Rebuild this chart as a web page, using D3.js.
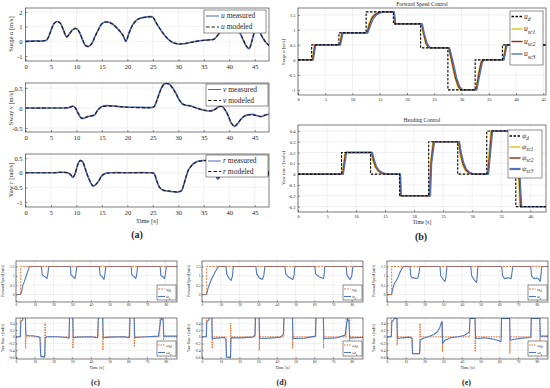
<!DOCTYPE html>
<html>
<head>
<meta charset="utf-8">
<script src="https://cdn.jsdelivr.net/npm/d3@7"></script>
<style>
  body { margin: 0; background: #fff; }
  text { font-family: "Liberation Serif", "DejaVu Serif", serif; fill: #262626; }
</style>
</head>
<body>
<div id="chart"></div>
<script>
// ---------- data: panel (a) ----------
const surgeTime = [0, 2, 3.5, 4.2, 5, 5.6, 6.2, 6.8, 7.4, 8.1, 8.7, 9.3, 10, 10.6, 11.2,
  11.8, 12.4, 13, 13.6, 14.3, 15, 15.7, 16.4, 17.1, 17.8, 18.5, 19.2, 19.7, 20.3, 21,
  21.8, 22.6, 23.5, 24.4, 25, 25.5, 26.2, 27, 28, 29, 30, 31, 32, 33, 34,
  35, 36, 37, 37.8, 38.6, 39.4, 40.2, 41, 41.8, 42.6, 43.3, 43.9, 44.5, 45.1, 45.7,
  46.3, 47, 47.8];
const surgeMeasured = [0, 0.02, 0.03, 0.1, 0.75, 1.2, 1.35, 1.25, 0.8, 0.3, 0.55, 0.8, 0.88, 0.6, 0.1,
  -0.3, -0.35, -0.15, 0.3, 0.8, 1.2, 1.32, 1.3, 1.18, 0.95, 0.7, 0.35, 0.0, 0.55, 1.1,
  1.45, 1.58, 1.65, 1.68, 1.65, 1.35, 0.95, 0.55, 0.15, -0.1, -0.18, -0.17, -0.1, -0.03, 0.03,
  0.07, 0.1, 0.15, 0.45, 0.8, 1.1, 1.3, 1.25, 0.8, 0.2, -0.3, -0.5, 0.1, 0.75, 0.85,
  0.4, 0.0, -0.3];
const surgeModeled = [0, 0.01, 0.02, 0.12, 0.73, 1.22, 1.33, 1.24, 0.82, 0.32, 0.54, 0.8, 0.86, 0.62, 0.12,
  -0.28, -0.34, -0.16, 0.28, 0.79, 1.19, 1.31, 1.29, 1.17, 0.96, 0.7, 0.37, 0.02, 0.53, 1.08,
  1.44, 1.57, 1.64, 1.67, 1.64, 1.36, 0.96, 0.56, 0.16, -0.09, -0.17, -0.16, -0.1, -0.04, 0.02,
  0.06, 0.09, 0.14, 0.44, 0.79, 1.09, 1.28, 1.24, 0.82, 0.22, -0.28, -0.48, 0.08, 0.73, 0.84,
  0.42, 0.02, -0.28];

const swayTime = [0, 5, 8.5, 9.3, 9.8, 10.4, 11, 11.6, 12.3, 13, 13.6, 14.2, 15, 16, 18,
  20, 22, 24, 25.2, 25.8, 26.5, 27.2, 27.8, 28.4, 29, 29.6, 30.2, 30.8, 31.5, 32.5,
  33.5, 34.5, 35.5, 36.5, 37.3, 38, 38.5, 39.2, 39.8, 40.4, 41, 41.6, 42.3, 43, 43.8,
  44.6, 45.4, 46.2, 47, 47.8];
const swayMeasured = [0, 0, 0.01, 0.05, 0.0, -0.15, -0.26, -0.25, -0.21, -0.2, -0.17, -0.05, 0.04, 0.06, 0.04,
  0.02, 0.02, 0.01, 0.03, 0.2, 0.45, 0.6, 0.62, 0.58, 0.48, 0.35, 0.2, 0.1, 0.07, 0.05,
  0.0, -0.04, -0.07, -0.07, -0.02, 0.04, 0.05, -0.05, -0.2, -0.38, -0.46, -0.4, -0.28, -0.2, -0.17,
  -0.16, -0.19, -0.22, -0.18, -0.15];
const swayModeled = [0, 0, 0.01, 0.04, 0.0, -0.14, -0.25, -0.24, -0.21, -0.19, -0.16, -0.05, 0.03, 0.05, 0.04,
  0.02, 0.01, 0.01, 0.03, 0.19, 0.44, 0.59, 0.61, 0.57, 0.47, 0.34, 0.2, 0.11, 0.07, 0.05,
  0.0, -0.04, -0.06, -0.07, -0.03, 0.03, 0.04, -0.05, -0.19, -0.37, -0.45, -0.39, -0.28, -0.2, -0.17,
  -0.17, -0.19, -0.21, -0.18, -0.16];

const yawTime = [0, 5, 8.3, 8.9, 9.3, 9.7, 10.2, 10.7, 11.2, 11.7, 12.2, 12.7, 13.2, 13.7, 14.3,
  15, 15.8, 17, 20, 24, 25.2, 25.7, 26.3, 27, 28, 29, 30, 30.6, 31, 31.5,
  32, 32.6, 33.3, 34, 35, 36.5, 37.2, 37.7, 38.2, 39, 40, 41, 43, 45, 46.5,
  47, 47.4, 47.8];
const yawMeasured = [0, 0, 0, -0.08, -0.16, -0.05, 0.25, 0.42, 0.38, 0.15, -0.1, -0.3, -0.45, -0.42, -0.3,
  -0.1, -0.02, 0, 0, 0, -0.02, -0.25, -0.5, -0.6, -0.63, -0.65, -0.66, -0.62, -0.45, -0.15,
  0.1, 0.25, 0.35, 0.4, 0.42, 0.42, 0.2, -0.22, -0.1, 0.2, 0.38, 0.4, 0.4, 0.4, 0.4,
  0.38, 0.15, -0.1];
const yawModeled = [0, 0, 0, -0.07, -0.15, -0.05, 0.24, 0.41, 0.37, 0.15, -0.1, -0.3, -0.44, -0.41, -0.3,
  -0.1, -0.02, 0, 0, 0, -0.02, -0.24, -0.49, -0.59, -0.62, -0.64, -0.65, -0.61, -0.44, -0.15,
  0.1, 0.24, 0.34, 0.39, 0.41, 0.41, 0.2, -0.2, -0.1, 0.19, 0.37, 0.39, 0.39, 0.39, 0.39,
  0.37, 0.15, -0.08];

// ---------- data: panel (b) ----------
const speedRef = [[0,0],[2.5,0],[2.5,0.5],[7.5,0.5],[7.5,0.9],[12.5,0.9],[12.5,1.6],[17.5,1.6],[17.5,1.2],
  [22.5,1.2],[22.5,0.4],[27.5,0.4],[27.5,-1],[32.5,-1],[32.5,0],[37.5,0],[37.5,0.5],[45.5,0.5]];
const speedSc1 = [[0,0],[2.6,0],[3.0,0.5],[7.6,0.5],[8.0,0.9],[12.6,0.9],[13.0,1.2],[13.5,1.42],[14.1,1.53],
  [14.8,1.58],[15.5,1.6],[17.6,1.6],[17.8,1.2],[22.6,1.2],[23.0,0.85],[23.4,0.55],[23.8,0.43],[24.2,0.4],
  [27.6,0.4],[28.2,-0.1],[28.8,-0.6],[29.3,-0.9],[29.7,-1],[32.6,-1],[33.1,-0.45],[33.5,-0.1],[33.8,0],
  [37.6,0],[38.1,0.5],[45.5,0.5]];
const speedSc2 = [[0,0],[2.7,0],[3.1,0.5],[7.7,0.5],[8.1,0.9],[12.7,0.9],[13.1,1.18],[13.6,1.4],[14.2,1.52],
  [14.9,1.58],[15.6,1.6],[17.6,1.6],[17.85,1.2],[22.7,1.2],[23.1,0.85],[23.5,0.55],[23.9,0.43],[24.3,0.4],
  [27.7,0.4],[28.3,-0.1],[28.9,-0.6],[29.5,-0.9],[29.9,-1],[32.7,-1],[33.2,-0.45],[33.6,-0.1],[33.9,0],
  [37.7,0],[38.2,0.5],[45.5,0.5]];
const speedSc3 = [[0,0],[2.8,0],[3.25,0.5],[7.8,0.5],[8.25,0.9],[12.8,0.9],[13.3,1.15],[13.8,1.37],[14.4,1.5],
  [15.1,1.57],[15.8,1.6],[17.65,1.6],[17.9,1.2],[22.8,1.2],[23.2,0.85],[23.7,0.55],[24.1,0.43],[24.5,0.4],
  [27.8,0.4],[28.5,-0.1],[29.1,-0.6],[29.7,-0.9],[30.2,-1],[32.8,-1],[33.4,-0.45],[33.8,-0.1],[34.1,0],
  [37.8,0],[38.35,0.5],[45.5,0.5]];

const headingRef = [[0,0],[7.5,0],[7.5,0.2],[12.5,0.2],[12.5,0],[17.5,0],[17.5,-0.2],[22.5,-0.2],[22.5,0.3],
  [27.5,0.3],[27.5,0],[32.5,0],[32.5,0.4],[37.5,0.4],[37.5,-0.3],[43,-0.3]];
const headingSc1 = [[0,0],[7.6,0],[8.1,0.2],[12.6,0.2],[12.9,0.12],[13.3,0.06],[13.8,0.025],[14.4,0.008],[15.2,0],
  [17.55,0],[17.65,-0.2],[22.6,-0.2],[22.8,0.1],[23.2,0.3],[27.6,0.3],[27.9,0.18],[28.3,0.09],[28.8,0.035],
  [29.4,0.01],[30.2,0],[32.6,0],[33.2,0.4],[37.6,0.4],[38.2,-0.3],[43,-0.3]];
const headingSc2 = [[0,0],[7.7,0],[8.2,0.2],[12.7,0.2],[13.0,0.13],[13.4,0.065],[13.9,0.03],[14.5,0.01],[15.3,0],
  [17.6,0],[17.7,-0.2],[22.7,-0.2],[22.9,0.1],[23.35,0.3],[27.7,0.3],[28.0,0.19],[28.4,0.1],[28.9,0.04],
  [29.5,0.012],[30.3,0],[32.7,0],[33.35,0.4],[37.7,0.4],[38.35,-0.3],[43,-0.3]];
const headingSc3 = [[0,0],[7.8,0],[8.35,0.2],[12.8,0.2],[13.1,0.14],[13.5,0.07],[14.0,0.032],[14.6,0.012],[15.4,0],
  [17.65,0],[17.75,-0.2],[22.8,-0.2],[23.0,0.1],[23.5,0.3],[27.8,0.3],[28.1,0.2],[28.5,0.11],[29.0,0.045],
  [29.6,0.015],[30.4,0],[32.8,0],[33.5,0.4],[37.8,0.4],[38.5,-0.3],[43,-0.3]];

// ---------- data: panels (c), (d), (e) ----------
const fwdRef = [[0,0],[2.5,0],[2.5,1.5],[86,1.5]];

const cSpeed = [[0,0],[2,0],[2.5,0.02],[3,0.15],[3.5,0.45],[4.5,0.7],[5.5,1.0],[6.5,1.3],[7.2,1.5],
  [13.6,1.5],[14,1.05],[15,0.98],[16,0.9],[16.5,0.85],[17,1.1],[17.5,1.5],
  [29,1.5],[29.4,1.05],[30.5,0.95],[31.5,0.85],[32,1.1],[32.5,1.5],
  [44.5,1.5],[44.9,1.05],[46,0.95],[47,0.8],[47.5,1.1],[48,1.5],
  [61.5,1.5],[61.9,1.05],[63,0.95],[64,0.85],[64.5,1.1],[65,1.5],
  [77,1.5],[77.4,1.0],[78.5,0.95],[79.3,0.85],[79.8,1.1],[80.3,1.5],[86,1.5]];
const cYaw = [[0,0],[2.3,0],[2.6,0.45],[3.5,0.5],[4.0,0.6],[5.0,0.6],[5.3,0.05],[6,0.04],[9,0.03],[12,0.0],
  [12.8,-0.05],[13.2,-0.58],[15.3,-0.6],[15.6,-0.02],[17,0.0],[22,0.0],[27,-0.02],[28.3,-0.04],[28.6,0.58],
  [30.3,0.6],[30.6,-0.03],[33,-0.01],[40,0.0],[43.5,-0.03],[44,0.58],[46.3,0.6],[46.6,-0.03],[50,-0.01],
  [58,0],[60.5,-0.03],[60.9,0.58],[63.1,0.6],[63.4,-0.02],[70,0],[76,0.02],[76.8,0.3],[77.5,0.55],
  [78.6,0.5],[78.9,0.02],[86,0.02]];
const cYawRef = [[0,0],[2.3,0],[2.3,0.62],[5.1,0.62],[5.1,-0.35],[5.3,0],[13.2,0],[13.2,-0.6],[15.5,-0.6],
  [15.5,0.42],[15.7,0],[28.5,0],[28.5,0.6],[30.4,0.6],[30.4,-0.35],[30.6,0],[44,0],[44,0.6],[46.4,0.6],
  [46.4,-0.4],[46.6,0],[60.8,0],[60.8,0.6],[63.2,0.6],[63.2,-0.3],[63.4,0],[76.8,0],[76.8,0.6],[78.8,0.6],
  [78.8,-0.1],[79,0],[86,0]];

const dSpeed = [[0,0],[2.5,0],[3,0.25],[4,0.55],[5,0.8],[6,1.0],[7,1.2],[8,1.38],[9,1.5],
  [12.8,1.5],[13.2,1.1],[14.5,0.85],[15.5,0.75],[16.2,0.95],[16.7,1.5],
  [28.8,1.5],[29.2,1.1],[30.5,0.9],[32.2,0.8],[33,1.0],[33.6,1.5],
  [44.3,1.5],[44.7,1.1],[46.5,0.92],[48.5,0.8],[49.1,1.0],[49.6,1.5],
  [60.3,1.5],[60.7,1.1],[62.5,0.95],[64.8,0.85],[65.2,1.0],[65.6,1.5],
  [77,1.5],[77.4,1.05],[79,0.8],[80,1.0],[80.6,1.5],[86,1.5]];
const dYaw = [[0,0],[2.3,0],[2.6,0.45],[3.5,0.5],[4.0,0.58],[5.2,0.6],[5.5,-0.05],[8,-0.04],[12,-0.02],
  [12.8,-0.08],[13.1,-0.6],[15.2,-0.62],[15.5,-0.03],[20,-0.03],[27,-0.01],[28.3,0.05],[28.6,0.6],[30.5,0.6],
  [30.8,-0.05],[36,-0.04],[42,-0.01],[43.5,0.08],[43.8,0.6],[48.3,0.6],[48.6,-0.05],[55,-0.04],[60.6,0.02],
  [60.9,0.6],[64.8,0.6],[65.1,-0.05],[72,-0.03],[76.5,0.05],[77.3,0.4],[77.8,0.55],[78.5,0.45],[78.9,-0.03],
  [86,-0.02]];
const dYawRef = [[0,0],[2.3,0],[2.3,0.6],[5.4,0.6],[5.4,-0.35],[5.6,0],[12.9,0],[12.9,-0.6],[15.3,-0.6],
  [15.3,0.4],[15.5,0],[28.4,0],[28.4,0.6],[30.6,0.6],[30.6,-0.4],[30.8,0],[43.7,0],[43.7,0.6],[48.4,0.6],
  [48.4,-0.35],[48.6,0],[60.8,0],[60.8,0.6],[64.9,0.6],[64.9,-0.35],[65.1,0],[77,0],[77,0.6],[78.8,0.6],
  [78.8,-0.2],[79,0],[86,0]];

const eSpeed = [[0,0],[2.5,0],[3,0.3],[4,0.6],[5,0.75],[6,0.95],[7,1.2],[8,1.4],[9,1.5],
  [12.3,1.5],[12.7,1.0],[13.5,0.88],[14.5,0.9],[15.5,0.85],[16.5,0.88],[17.2,1.2],[17.6,1.5],
  [28.3,1.5],[28.7,1.0],[30,0.8],[31,0.7],[31.6,1.0],[32,1.5],
  [44.8,1.5],[45.2,1.0],[46.5,0.8],[47.8,0.65],[48.2,1.0],[48.5,1.5],
  [61.3,1.5],[61.7,1.0],[62.8,0.85],[64.5,0.9],[66.3,0.85],[66.8,1.2],[67.2,1.5],
  [76.8,1.5],[77.2,1.0],[78.5,0.85],[80.5,0.88],[81.8,0.7],[82.3,1.1],[82.7,1.5],[86,1.5]];
const eYaw = [[0,0],[2.3,0],[2.6,0.45],[3.5,0.5],[4.0,0.55],[5.3,0.55],[5.6,-0.05],[8,-0.03],[12,-0.01],
  [13.3,-0.05],[13.7,-0.5],[17.4,-0.5],[17.7,-0.1],[19,-0.05],[22,0.0],[25,0.07],[27,0.15],[28.2,0.28],
  [29,0.42],[29.4,0.45],[29.7,-0.2],[31,-0.1],[34,-0.03],[38,0.0],[41,0.04],[43,0.1],[44,0.15],[44.3,0.55],
  [47,0.55],[47.3,-0.05],[52,-0.03],[56,-0.06],[59,-0.1],[60.9,-0.15],[61.2,0.55],[65.5,0.55],[65.8,-0.1],
  [68,-0.07],[72,-0.04],[76.8,-0.02],[77.1,0.55],[81.6,0.55],[81.9,0.02],[86,0.02]];
const eYawRef = [[0,0],[2.3,0],[2.3,0.6],[5.4,0.6],[5.4,-0.25],[5.6,0],[13.5,0],[13.5,-0.5],[17.6,-0.5],
  [17.6,0.4],[17.8,0],[29.5,0],[29.5,0.45],[29.6,-0.45],[29.8,0],[44.2,0],[44.2,0.55],[47.1,0.55],
  [47.1,-0.45],[47.3,0],[61.1,0],[61.1,0.55],[65.6,0.55],[65.6,-0.5],[65.8,0],[77,0],[77,0.55],[81.7,0.55],
  [81.7,-0.3],[81.9,0],[86,0]];

// tick labels
const ticksA = [0, 5, 10, 15, 20, 25, 30, 35, 40, 45];
const ticksB = [0, 5, 10, 15, 20, 25, 30, 35, 40, 45];
const ticksCDE = [0, 10, 20, 30, 40, 50, 60, 70, 80];

// colours
const blueA = '#4a68b4', darkA = '#2b1c14';
const yellowB = '#d6c21e', redB = '#8e2f12', blueB = '#5271b9';
const blueC = '#4f77bd', orangeC = '#de6a28';

// ---------- canvas ----------
const svg = d3.select('#chart').append('svg')
  .attr('width', 550)
  .attr('height', 388)
  .style('background', '#fff');

let clipCount = 0;

// rich text: parts like [['u','i'], [' measured']] or [['u','i'], ['sc1','isub']]
function rich(sel, parts, fs) {
  let shifted = false;
  parts.forEach(p => {
    const t = sel.append('tspan').text(p[0]);
    const st = p[1] || '';
    if (st.startsWith('i')) t.style('font-style', 'italic');
    if (st.includes('sub')) {
      t.attr('font-size', fs * 0.75).attr('dy', fs * 0.3);
      shifted = true;
    } else if (shifted) {
      t.attr('dy', -fs * 0.3);
      shifted = false;
    }
  });
  return sel;
}

// one MATLAB-like axes box with grid and inward ticks
function subplot(o) {
  const x = d3.scaleLinear().domain(o.xd).range([o.l, o.r]);
  const y = d3.scaleLinear().domain(o.yd).range([o.b, o.t]);
  const g = svg.append('g');
  const id = 'clip' + (clipCount++);
  svg.append('clipPath').attr('id', id).append('rect')
    .attr('x', o.l).attr('y', o.t).attr('width', o.r - o.l).attr('height', o.b - o.t);

  g.append('rect').attr('x', o.l).attr('y', o.t).attr('width', o.r - o.l).attr('height', o.b - o.t)
    .attr('fill', '#fff');

  // grid
  g.append('g').selectAll('line').data(o.xt).join('line')
    .attr('x1', d => x(d)).attr('x2', d => x(d)).attr('y1', o.t).attr('y2', o.b)
    .attr('stroke', '#e3e3e3').attr('stroke-width', 0.5);
  g.append('g').selectAll('line').data(o.yt).join('line')
    .attr('y1', d => y(d)).attr('y2', d => y(d)).attr('x1', o.l).attr('x2', o.r)
    .attr('stroke', '#e3e3e3').attr('stroke-width', 0.5);

  const xa = g.append('g').attr('transform', `translate(0,${o.b})`)
    .call(d3.axisBottom(x).tickValues(o.xt).tickSize(-o.tl).tickPadding(o.tp).tickFormat(d => String(d)));
  const ya = g.append('g').attr('transform', `translate(${o.l},0)`)
    .call(d3.axisLeft(y).tickValues(o.yt).tickSize(-o.tl).tickPadding(o.tp).tickFormat(d => String(d)));
  [xa, ya].forEach(a => {
    a.select('.domain').remove();
    a.selectAll('line').attr('stroke', '#333').attr('stroke-width', 0.5);
    a.selectAll('text').attr('font-size', o.fs)
      .attr('font-family', '"Liberation Serif", serif').attr('fill', '#333');
  });

  const lines = g.append('g').attr('clip-path', `url(#${id})`);
  g.append('rect').attr('x', o.l).attr('y', o.t).attr('width', o.r - o.l).attr('height', o.b - o.t)
    .attr('fill', 'none').attr('stroke', '#262626').attr('stroke-width', 0.6);
  return {x, y, g, lines, o};
}

function plotPairs(sp, data, color, width, dash, curve) {
  const line = d3.line().x(d => sp.x(d[0])).y(d => sp.y(d[1])).curve(curve || d3.curveLinear);
  sp.lines.append('path').datum(data)
    .attr('d', line).attr('fill', 'none').attr('stroke', color)
    .attr('stroke-width', width).attr('stroke-dasharray', dash || null)
    .attr('stroke-linejoin', 'round');
}

function plotSeries(sp, times, values, color, width, dash) {
  plotPairs(sp, times.map((t, i) => [t, values[i]]), color, width, dash, d3.curveCatmullRom.alpha(0.5));
}

function legend(sp, o) {
  const g = sp.g.append('g');
  g.append('rect').attr('x', o.x).attr('y', o.y).attr('width', o.w).attr('height', o.h)
    .attr('fill', '#fff').attr('stroke', '#262626').attr('stroke-width', 0.5);
  o.items.forEach((it, i) => {
    const cy = o.y + o.first + i * o.step;
    g.append('line').attr('x1', o.x + o.pad).attr('x2', o.x + o.pad + o.len)
      .attr('y1', cy).attr('y2', cy).attr('stroke', it.color).attr('stroke-width', it.width)
      .attr('stroke-dasharray', it.dash || null);
    const t = g.append('text').attr('x', o.x + o.pad + o.len + o.gap).attr('y', cy + o.fs * 0.3)
      .attr('font-size', o.fs);
    rich(t, it.label, o.fs);
  });
}

function yLabel(x, y, parts, fs) {
  const t = svg.append('text').attr('transform', `translate(${x},${y}) rotate(-90)`)
    .attr('text-anchor', 'middle').attr('font-size', fs);
  rich(t, parts, fs);
}

function label(x, y, txt, fs, opts) {
  const t = svg.append('text').attr('x', x).attr('y', y).attr('text-anchor', 'middle')
    .attr('font-size', fs).text(txt);
  if (opts && opts.bold) t.attr('font-weight', 'bold');
  if (opts && opts.family) t.attr('font-family', opts.family);
  return t;
}

// ---------- panel (a) ----------
const aBase = {l: 25.5, r: 269, xd: [0, 47.8], xt: ticksA, tl: 2, tp: 3, fs: 6.5};
const aTop = subplot(Object.assign({}, aBase, {t: 8, b: 61, yd: [-1.34, 2.27], yt: [-1, 0, 1, 2]}));
plotSeries(aTop, surgeTime, surgeMeasured, blueA, 1.6);
plotSeries(aTop, surgeTime, surgeModeled, darkA, 1.2, '3.5,2');
legend(aTop, {x: 204, y: 10, w: 62, h: 23, first: 6, step: 11, pad: 2, len: 13, gap: 2, fs: 7.5,
  items: [{color: blueA, width: 1, label: [['u', 'i'], [' measured']]},
          {color: darkA, width: 1.2, dash: '3.5,2', label: [['u', 'i'], [' modeled']]}]});
yLabel(13, 34, [['Surge '], ['u', 'i'], [' [m/s]']], 6.5);

const aMid = subplot(Object.assign({}, aBase, {t: 83, b: 132, yd: [-0.6, 0.625], yt: [-0.5, 0, 0.5]}));
plotSeries(aMid, swayTime, swayMeasured, blueA, 1.6);
plotSeries(aMid, swayTime, swayModeled, darkA, 1.2, '3.5,2');
legend(aMid, {x: 206, y: 84, w: 62, h: 22, first: 5.5, step: 11, pad: 2, len: 13, gap: 2, fs: 7.5,
  items: [{color: blueA, width: 1, label: [['v', 'i'], [' measured']]},
          {color: darkA, width: 1.2, dash: '3.5,2', label: [['v', 'i'], [' modeled']]}]});
yLabel(13, 108, [['Sway '], ['v', 'i'], [' [m/s]']], 6.5);

const aBot = subplot(Object.assign({}, aBase, {t: 154, b: 207, yd: [-1.17, 0.64], yt: [-1, -0.5, 0, 0.5]}));
plotSeries(aBot, yawTime, yawMeasured, blueA, 1.6);
plotSeries(aBot, yawTime, yawModeled, darkA, 1.2, '3.5,2');
legend(aBot, {x: 206, y: 155, w: 62, h: 22, first: 6, step: 10.5, pad: 2, len: 13, gap: 2, fs: 7.5,
  items: [{color: blueA, width: 1, label: [['r', 'i'], [' measured']]},
          {color: darkA, width: 1.2, dash: '3.5,2', label: [['r', 'i'], [' modeled']]}]});
yLabel(13, 180, [['Yaw '], ['r', 'i'], [' [rad/s]']], 6.5);
label(147, 223, 'Time [s]', 6.5);
label(137, 238, '(a)', 10, {bold: true, family: '"Open Sans", "DejaVu Sans", sans-serif'});

// ---------- panel (b) ----------
const bTop = subplot({l: 298, r: 546, t: 8, b: 95, xd: [0, 45.5], yd: [-1.17, 1.73],
  xt: ticksB, yt: [-1, -0.5, 0, 0.5, 1, 1.5], tl: 2, tp: 2.5, fs: 4.5});
plotPairs(bTop, speedSc1, yellowB, 1.4);
plotPairs(bTop, speedSc2, redB, 1.4);
plotPairs(bTop, speedSc3, blueB, 1.4);
plotPairs(bTop, speedRef, '#000', 1.1, '2.5,1.5');
legend(bTop, {x: 510, y: 11, w: 33, h: 54, first: 5.5, step: 12.5, pad: 1.5, len: 11, gap: 1.5, fs: 7.5,
  items: [{color: '#000', width: 1.3, dash: '2.5,1.5', label: [['u', 'i'], ['d', 'isub']]},
          {color: yellowB, width: 1.4, label: [['u', 'i'], ['sc1', 'isub']]},
          {color: redB, width: 1.4, label: [['u', 'i'], ['sc2', 'isub']]},
          {color: blueB, width: 1.4, label: [['u', 'i'], ['sc3', 'isub']]}]});
label(422, 6, 'Forward Speed Control', 5.5);
yLabel(285, 52, [['Surge '], ['u', 'i'], [' [m/s]']], 4.8);

const bBot = subplot({l: 298, r: 546, t: 125, b: 212, xd: [0, 42.7], yd: [-0.35, 0.455],
  xt: [0, 5, 10, 15, 20, 25, 30, 35, 40], yt: [-0.3, -0.2, -0.1, 0, 0.1, 0.2, 0.3, 0.4], tl: 2, tp: 2.5, fs: 4.5});
plotPairs(bBot, headingSc1, yellowB, 1.4);
plotPairs(bBot, headingSc2, redB, 1.4);
plotPairs(bBot, headingSc3, blueB, 1.4);
plotPairs(bBot, headingRef, '#000', 1.1, '2.5,1.5');
legend(bBot, {x: 508, y: 130, w: 34, h: 48, first: 6, step: 11, pad: 1.5, len: 11, gap: 1.5, fs: 7,
  items: [{color: '#000', width: 1.3, dash: '2.5,1.5', label: [['ψ', 'i'], ['d', 'isub']]},
          {color: yellowB, width: 1.4, label: [['ψ', 'i'], ['sc1', 'isub']]},
          {color: redB, width: 1.4, label: [['ψ', 'i'], ['sc2', 'isub']]},
          {color: blueB, width: 2.2, label: [['ψ', 'i'], ['sc3', 'isub']]}]});
label(422, 122, 'Heading Control', 5.5);
yLabel(285, 168, [['Yaw rate '], ['r', 'i'], [' [rad/s]']], 4.8);
label(422, 224, 'Time [s]', 5.5);
label(421, 240, '(b)', 10, {bold: true});

// ---------- panels (c), (d), (e) ----------
const lowerPanels = [
  {l: 16, r: 177, speed: cSpeed, yaw: cYaw, yawRef: cYawRef, tag: '(c)'},
  {l: 202, r: 363, speed: dSpeed, yaw: dYaw, yawRef: dYawRef, tag: '(d)'},
  {l: 387, r: 548, speed: eSpeed, yaw: eYaw, yawRef: eYawRef, tag: '(e)'}
];

lowerPanels.forEach(p => {
  const top = subplot({l: p.l, r: p.r, t: 261, b: 302, xd: [0, 86], yd: [-0.4, 1.79],
    xt: ticksCDE, yt: [0, 0.5, 1, 1.5], tl: 1.5, tp: 1.5, fs: 3.6});
  plotPairs(top, p.speed, blueC, 1.1);
  plotPairs(top, fwdRef, orangeC, 0.9, '2,1.2');
  legend(top, {x: p.r - 20, y: 285, w: 19, h: 15, first: 4, step: 7.5, pad: 1, len: 7, gap: 1.2, fs: 5,
    items: [{color: orangeC, width: 0.9, dash: '2,1.2', label: [['u', 'i'], ['d', 'isub']]},
            {color: blueC, width: 1.1, label: [['u', 'i'], ['r', 'isub']]}]});
  yLabel(p.l - 12, 281, [['Forward Speed [m/s]']], 3.8);

  const bot = subplot({l: p.l, r: p.r, t: 318, b: 359, xd: [0, 86], yd: [-0.66, 0.56],
    xt: ticksCDE, yt: [-0.6, -0.4, -0.2, 0, 0.2, 0.4], tl: 1.5, tp: 1.5, fs: 3.6});
  plotPairs(bot, p.yawRef, orangeC, 0.9, '1.5,1');
  plotPairs(bot, p.yaw, blueC, 1.1);
  legend(bot, {x: p.r - 20, y: 341, w: 19, h: 15, first: 4, step: 7.5, pad: 1, len: 7, gap: 1.2, fs: 5,
    items: [{color: orangeC, width: 0.9, dash: '1.5,1', label: [['ω', 'i'], ['d', 'isub']]},
            {color: blueC, width: 1.1, label: [['ω', 'i'], ['r', 'isub']]}]});
  yLabel(p.l - 12, 338, [['Yaw Rate '], ['r', 'i'], [' [rad/s]']], 3.8);
  label((p.l + p.r) / 2, 369, 'Time [s]', 4.2);
  label((p.l + p.r) / 2 - 1, 385, p.tag, 8, {bold: true});
});
</script>
</body>
</html>
